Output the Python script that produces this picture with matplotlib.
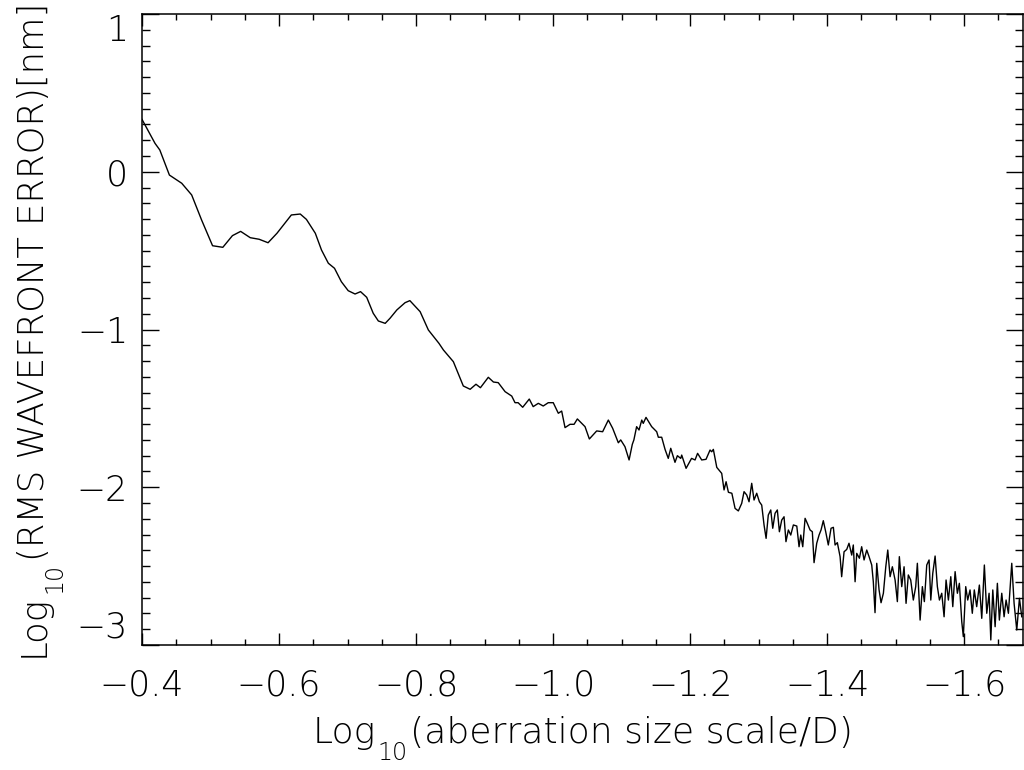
import matplotlib
matplotlib.use("Agg")
import matplotlib.pyplot as plt
from matplotlib.ticker import MultipleLocator
from matplotlib.transforms import IdentityTransform

# ---- data ----
log_scale = [
    -0.400, -0.419, -0.426, -0.440, -0.458, -0.4725, -0.487, -0.503, -0.518, -0.532,
    -0.544, -0.558, -0.571, -0.584, -0.597, -0.618, -0.631, -0.640, -0.653, -0.662,
    -0.672, -0.681, -0.691, -0.701, -0.711, -0.719, -0.728, -0.7375, -0.745, -0.755,
    -0.762, -0.772, -0.784, -0.791, -0.806, -0.818, -0.8335, -0.840, -0.8545, -0.869,
    -0.879, -0.8875, -0.894, -0.9055, -0.913, -0.920, -0.930, -0.9397, -0.9445, -0.949,
    -0.9557, -0.9653, -0.971, -0.9785, -0.9857, -0.993, -1.0003, -1.0077, -1.0126, -1.0175,
    -1.0248, -1.0307, -1.0355, -1.0467, -1.053, -1.0637, -1.0724, -1.0807, -1.087, -1.0953,
    -1.0988, -1.105, -1.111, -1.1157, -1.118, -1.122, -1.1255, -1.1295, -1.1317, -1.1357,
    -1.144, -1.1513, -1.1537, -1.1586, -1.1635, -1.1682, -1.1718, -1.178, -1.1815, -1.1864,
    -1.1878, -1.1942, -1.2022, -1.2073, -1.211, -1.217, -1.2233, -1.2292, -1.2316, -1.234,
    -1.239, -1.2462, -1.2496, -1.2526, -1.256, -1.261, -1.2657, -1.2705, -1.2754, -1.2788,
    -1.2827, -1.2861, -1.290, -1.2934, -1.2973, -1.3012, -1.3046, -1.308, -1.311, -1.3142,
    -1.3178, -1.3207, -1.3241, -1.3274, -1.3304, -1.3338, -1.3372, -1.340, -1.3435, -1.347,
    -1.3508, -1.3558, -1.3591, -1.3616, -1.3645, -1.3679, -1.3712, -1.3752, -1.3785, -1.381,
    -1.3849, -1.3883, -1.3912, -1.3945, -1.398, -1.4018, -1.4058, -1.4092, -1.4117, -1.415,
    -1.419, -1.4213, -1.4248, -1.4287, -1.432, -1.436, -1.4383, -1.4409, -1.4433, -1.4472,
    -1.4505, -1.454, -1.4579, -1.4613, -1.4652, -1.4675, -1.470, -1.4725, -1.4759, -1.4788,
    -1.4822, -1.4857, -1.4886, -1.492, -1.4953, -1.4993, -1.5026, -1.5055, -1.509, -1.5124,
    -1.5153, -1.5186, -1.5221, -1.5259, -1.5294, -1.5318, -1.5358, -1.5391, -1.542, -1.5455,
    -1.5489, -1.5514, -1.5543, -1.5577, -1.561, -1.564, -1.5674, -1.5708, -1.5737, -1.5771,
    -1.5806, -1.5835, -1.5869, -1.5902, -1.5931, -1.5966, -1.5989, -1.6024, -1.6053, -1.6087,
    -1.612, -1.6149, -1.6184, -1.6223, -1.6258, -1.6296, -1.6331, -1.6365, -1.639, -1.6419,
    -1.6453, -1.6486, -1.6515, -1.655, -1.6584, -1.6613, -1.6647, -1.6696, -1.673, -1.6769,
    -1.6808, -1.6842,
]
log_rms = [
    0.332, 0.180, 0.138, -0.021, -0.073, -0.147, -0.306, -0.469, -0.479, -0.405,
    -0.378, -0.418, -0.428, -0.450, -0.390, -0.274, -0.268, -0.302, -0.390, -0.496,
    -0.580, -0.612, -0.697, -0.754, -0.775, -0.760, -0.796, -0.897, -0.946, -0.961,
    -0.929, -0.876, -0.830, -0.817, -0.887, -1.003, -1.088, -1.130, -1.204, -1.358,
    -1.379, -1.347, -1.369, -1.303, -1.333, -1.337, -1.394, -1.422, -1.464, -1.464,
    -1.493, -1.441, -1.489, -1.468, -1.485, -1.464, -1.464, -1.531, -1.517, -1.622,
    -1.601, -1.601, -1.567, -1.616, -1.694, -1.643, -1.648, -1.574, -1.626, -1.718,
    -1.700, -1.743, -1.827, -1.728, -1.700, -1.616, -1.637, -1.574, -1.595, -1.557,
    -1.616, -1.648, -1.683, -1.683, -1.760, -1.817, -1.753, -1.842, -1.800, -1.817,
    -1.796, -1.880, -1.817, -1.827, -1.785, -1.827, -1.823, -1.764, -1.775, -1.760,
    -1.874, -1.912, -2.017, -1.965, -2.032, -2.038, -2.134, -2.150, -2.102, -2.028,
    -2.049, -2.092, -1.975, -2.081, -2.038, -2.092, -2.113, -2.239, -2.324, -2.176,
    -2.144, -2.260, -2.165, -2.144, -2.282, -2.208, -2.187, -2.345, -2.271, -2.303,
    -2.239, -2.246, -2.377, -2.303, -2.377, -2.197, -2.229, -2.271, -2.282, -2.478,
    -2.355, -2.303, -2.271, -2.212, -2.282, -2.366, -2.260, -2.254, -2.366, -2.351,
    -2.440, -2.567, -2.409, -2.394, -2.355, -2.430, -2.366, -2.599, -2.419, -2.450,
    -2.377, -2.461, -2.398, -2.440, -2.493, -2.599, -2.795, -2.482, -2.651, -2.732,
    -2.672, -2.504, -2.398, -2.567, -2.504, -2.588, -2.725, -2.440, -2.630, -2.504,
    -2.736, -2.556, -2.588, -2.715, -2.630, -2.482, -2.842, -2.630, -2.725, -2.493,
    -2.461, -2.715, -2.545, -2.436, -2.630, -2.715, -2.672, -2.821, -2.588, -2.715,
    -2.567, -2.757, -2.535, -2.672, -2.609, -2.852, -2.947, -2.630, -2.715, -2.651,
    -2.799, -2.651, -2.757, -2.620, -2.831, -2.493, -2.799, -2.672, -2.968, -2.651,
    -2.884, -2.609, -2.842, -2.672, -2.821, -2.715, -2.799, -2.482, -2.736, -2.905,
    -2.704, -2.821,
]

x_ticks = [-0.4, -0.6, -0.8, -1.0, -1.2, -1.4, -1.6]
x_tick_labels = ["\u22120.4", "\u22120.6", "\u22120.8", "\u22121.0", "\u22121.2", "\u22121.4", "\u22121.6"]
y_ticks = [1, 0, -1, -2, -3]
y_tick_labels = ["1", "0", "\u22121", "\u22122", "\u22123"]
x_label_parts = ["Log", "10", "(aberration size scale/D)"]
y_label_parts = ["Log", "10", "(RMS WAVEFRONT ERROR)[nm]"]

plt.rcParams["font.family"] = ["DejaVu Sans"]
plt.rcParams["font.weight"] = "light"

fig = plt.figure(figsize=(10.24, 7.70), dpi=100)
ax = fig.add_axes([142 / 1024, 1 - 645 / 770, 881 / 1024, 631 / 770])

ax.plot(log_scale, log_rms, color="black", linewidth=1.0)

ax.set_xlim(-0.4, -1.686)
ax.set_ylim(-3.0, 1.0)

ax.set_xticks(x_ticks)
ax.set_xticklabels(x_tick_labels)
ax.set_yticks(y_ticks)
ax.set_yticklabels(y_tick_labels)
ax.xaxis.set_minor_locator(MultipleLocator(0.05))
ax.yaxis.set_minor_locator(MultipleLocator(0.1))

fs = 25
ax.tick_params(axis="both", which="both", direction="in", top=True, right=True,
               labelsize=fs, width=1.0, color="black")
ax.tick_params(axis="x", which="major", length=8.6, pad=17)
ax.tick_params(axis="x", which="minor", length=4.3)
ax.tick_params(axis="y", which="major", length=12.2, pad=10)
ax.tick_params(axis="y", which="minor", length=6.1)

for t, lab in zip(ax.yaxis.get_major_ticks(), y_tick_labels):
    if lab == "1":
        t.label1.set_va("top")
    elif lab == "\u22123":
        t.label1.set_va("bottom")

for sp in ax.spines.values():
    sp.set_linewidth(1.1)

# ---- axis titles built from pieces (main text + lowered subscript) ----
renderer = fig.canvas.get_renderer()
sub_fs = 17
sub_drop = 17  # px


def label_pieces(parts, rotated, center, base, main_fs, gap):
    sizes = [main_fs, sub_fs, main_fs]
    drops = [0, sub_drop, 0]
    widths = []
    for p, s in zip(parts, sizes):
        t = fig.text(0, 0, p, fontsize=s, transform=IdentityTransform())
        bb = t.get_window_extent(renderer)
        widths.append(bb.width)
        t.remove()
    total = sum(widths) + 2 * gap
    cur = center - total / 2
    for p, s, d, w in zip(parts, sizes, drops, widths):
        if rotated:
            fig.text(base + d, cur, p, fontsize=s, rotation=90, rotation_mode="anchor",
                     ha="left", va="baseline", transform=IdentityTransform())
        else:
            fig.text(cur, base - d, p, fontsize=s, ha="left", va="baseline",
                     transform=IdentityTransform())
        cur += w + gap


# x title: centered under axes, baseline ~27 px above bottom edge
label_pieces(x_label_parts, False, (142 + 1023) / 2, 770 - 743, 26, 2)
# y title: rotated, centered on axes, baseline ~44 px from left edge
label_pieces(y_label_parts, True, 770 - (14 + 645) / 2, 44, 25.5, 2)

fig.savefig("out.png", dpi=100)
